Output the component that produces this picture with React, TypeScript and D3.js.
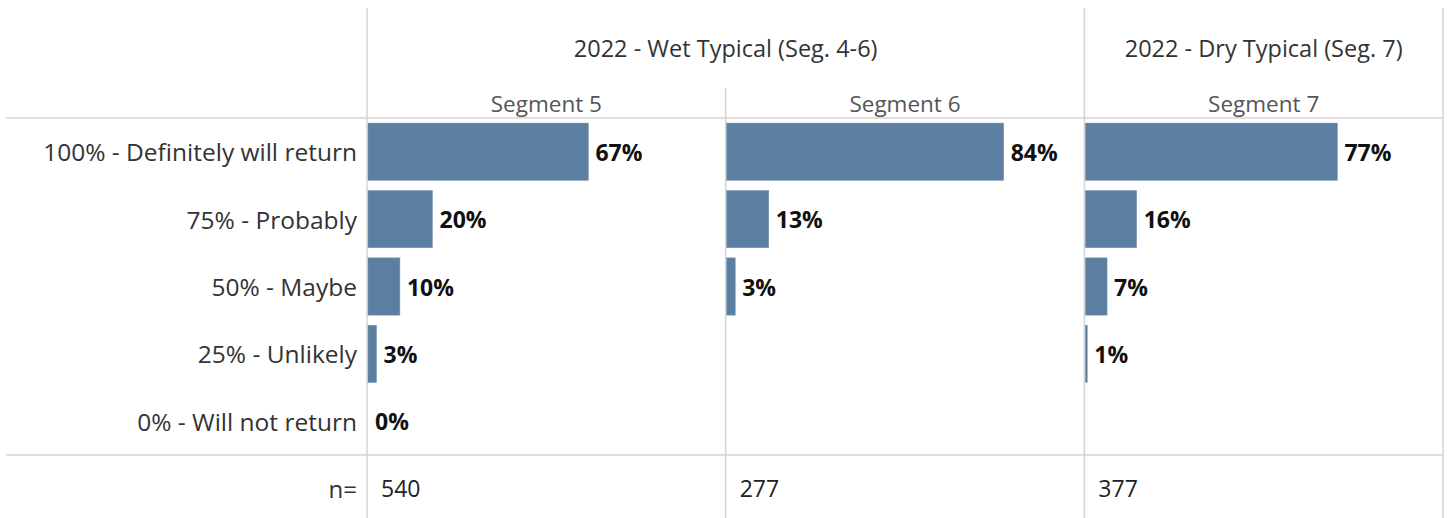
import React from "react";
import * as d3 from "d3";

const categories = [
  "100% - Definitely will return",
  "75% - Probably",
  "50% - Maybe",
  "25% - Unlikely",
  "0% - Will not return",
];
const segments = ["Segment 5", "Segment 6", "Segment 7"];
const groupLabels = ["2022 - Wet Typical (Seg. 4-6)", "2022 - Dry Typical (Seg. 7)"];
const groupOfSegment = [0, 0, 1];
const segment5 = [67, 19.6, 9.7, 2.6, 0];
const segment6 = [84.2, 12.8, 2.6, null, null];
const segment7 = [76.6, 15.6, 6.6, 0.6, null];
const nValues = [540, 277, 377];

const seriesValues: (number | null)[][] = [segment5, segment6, segment7];

const W = 1447;
const H = 518;
const FONT = "'Open Sans', 'Noto Sans', sans-serif";
const GRID = "#d4d4d4";
const BAR = "#5b7fa1";

export default function App() {
  const left = 367;
  const right = 1443;
  const top = 118;
  const bottom = 455;

  const xPanel = d3.scaleBand<string>().domain(segments).range([left, right]).padding(0);
  const y = d3.scaleBand<string>().domain(categories).range([top, bottom]).paddingInner(0.15).paddingOuter(0.075);
  const x = d3.scaleLinear().domain([0, 109]).range([0, xPanel.bandwidth()]);
  const fmt = d3.format(".0f");

  const groups = groupLabels.map((g, gi) => {
    const segs = segments.filter((_, i) => groupOfSegment[i] === gi);
    const x0 = xPanel(segs[0])!;
    const x1 = xPanel(segs[segs.length - 1])! + xPanel.bandwidth();
    return { label: g, x0, x1 };
  });

  const vLines: { x: number; y0: number }[] = [];
  segments.forEach((s, i) => {
    const isGroupStart = i === 0 || groupOfSegment[i] !== groupOfSegment[i - 1];
    vLines.push({ x: xPanel(s)!, y0: isGroupStart ? 8 : 88 });
  });
  vLines.push({ x: right, y0: 8 });

  return (
    <svg
      width={W}
      height={H}
      style={{ position: "absolute", left: 0, top: 0, background: "#fff" }}
      fontFamily={FONT}
    >
      {/* grid lines */}
      {vLines.map((l, i) => (
        <line key={"v" + i} x1={l.x} x2={l.x} y1={l.y0} y2={H} stroke={GRID} strokeWidth={1.5} />
      ))}
      <line x1={6} x2={right} y1={top} y2={top} stroke={GRID} strokeWidth={1.5} />
      <line x1={6} x2={right} y1={bottom} y2={bottom} stroke={GRID} strokeWidth={1.5} />

      {/* group headers */}
      {groups.map((g) => (
        <text
          key={g.label}
          x={(g.x0 + g.x1) / 2}
          y={48}
          textAnchor="middle"
          dominantBaseline="central"
          fontSize={23.5}
          fill="#333"
        >
          {g.label}
        </text>
      ))}
      {/* segment headers */}
      {segments.map((s) => (
        <text
          key={s}
          x={xPanel(s)! + xPanel.bandwidth() / 2}
          y={103}
          textAnchor="middle"
          dominantBaseline="central"
          fontSize={22.5}
          fill="#555"
        >
          {s}
        </text>
      ))}

      {/* category labels */}
      {categories.map((c) => (
        <text
          key={c}
          x={357}
          y={y(c)! + y.bandwidth() / 2}
          textAnchor="end"
          dominantBaseline="central"
          fontSize={24.5}
          fill="#333"
        >
          {c}
        </text>
      ))}

      {/* bars */}
      {segments.map((s, si) =>
        categories.map((c, ci) => {
          const v = seriesValues[si][ci];
          if (v === null || v === undefined) return null;
          const px = xPanel(s)! + 1;
          const w = x(v);
          const cy = y(c)! + y.bandwidth() / 2;
          return (
            <g key={s + c}>
              {w > 0 && (
                <rect x={px} y={y(c)!} width={w} height={y.bandwidth()} fill={BAR} stroke="#7d98b5" strokeWidth={0.5} />
              )}
              <text
                x={px + w + 7}
                y={cy}
                dominantBaseline="central"
                fontSize={23}
                fontWeight="bold"
                fill="#111"
              >
                {fmt(v) + "%"}
              </text>
            </g>
          );
        })
      )}

      {/* n row */}
      <text x={357} y={488} textAnchor="end" dominantBaseline="central" fontSize={24} fill="#333">
        n=
      </text>
      {segments.map((s, i) => (
        <text
          key={"n" + s}
          x={xPanel(s)! + 14}
          y={488}
          dominantBaseline="central"
          fontSize={23}
          fill="#222"
        >
          {nValues[i]}
        </text>
      ))}
    </svg>
  );
}
